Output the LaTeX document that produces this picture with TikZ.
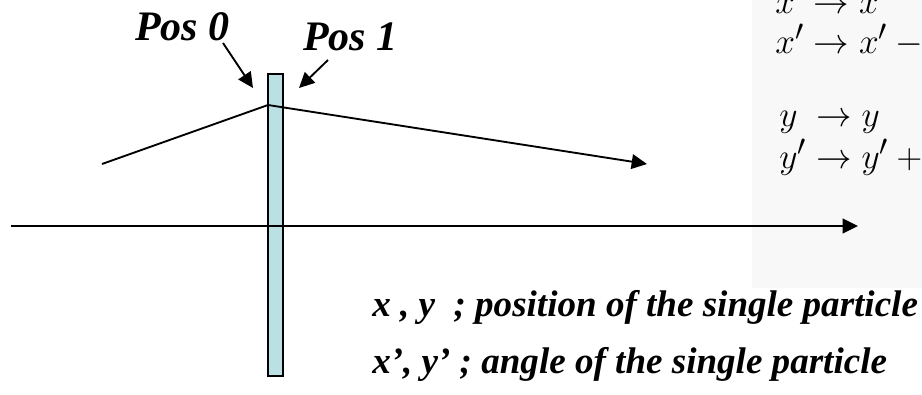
\documentclass[tikz,border=0pt]{standalone}
\usepackage{graphicx}
\usepackage{fontspec}
\setmainfont{Liberation Serif}
\usetikzlibrary{arrows.meta}
\definecolor{platefill}{RGB}{187,224,227}
\definecolor{panel}{RGB}{248,248,248}
\newcommand{\eqbox}[1]{\scalebox{1.07}{$#1$}}
\begin{document}
\begin{tikzpicture}[x=0.75pt,y=-0.75pt,
  lbl/.style={font=\fontsize{31.5}{36}\selectfont\bfseries\itshape, inner sep=0, anchor=base west},
  captiontext/.style={font=\fontsize{27.8}{33}\selectfont\bfseries\itshape, inner sep=0, anchor=base west},
  eq/.style={font=\fontsize{24.88}{30}\selectfont, inner sep=0, anchor=base west},
  thick line/.style={line width=1.4pt},
  tip/.style={-{Triangle[length=11.5pt,width=11pt]}},
  platebox/.style={draw, line width=1.2pt, fill=platefill, minimum width=11.25pt, minimum height=226.5pt, inner sep=0}]
\useasboundingbox (0,0) rectangle (922,394);
\fill[panel] (752,0) rectangle (922,288);
% plate
\node[platebox] (plate) at (275.5,225) {};
% axis
\coordinate (a0) at (11,226);
\coordinate (a1) at (858,226);
\draw[thick line,tip] (a0) -- (a1);
% ray
\coordinate (r0) at (102,164);
\coordinate (r1) at (268,105);
\coordinate (r2) at (647,164);
\draw[thick line] (r0) -- (r1);
\draw[thick line,tip] (r1) -- (r2);
% labels
\node[lbl] (p0) at (135,40) {Pos 0};
\node[lbl] (p1) at (303,50) {Pos 1};
\coordinate (p0s) at (223,43);
\coordinate (p0e) at (253,88);
\coordinate (p1s) at (328,60);
\coordinate (p1e) at (299,88);
\draw[thick line,tip] (p0s) -- (p0e);
\draw[thick line,tip] (p1s) -- (p1e);
% equations
\node[eq] (e1) at (775,13) {\eqbox{x^{\phantom{\prime}}\to x}};
\node[eq] (e2) at (775,53) {\eqbox{x'\to x'-{}}};
\node[eq] (e3) at (779,126) {\eqbox{y^{\phantom{\prime}}\to y}};
\node[eq] (e4) at (779,168) {\eqbox{y'\to y'+{}}};
% captions
\node[captiontext] (c1) at (372,316) {x , y\ \ ; position of the single particle};
\node[captiontext] (c2) at (372,373) {x’, y’ ; angle of the single particle};
\end{tikzpicture}
\end{document}
